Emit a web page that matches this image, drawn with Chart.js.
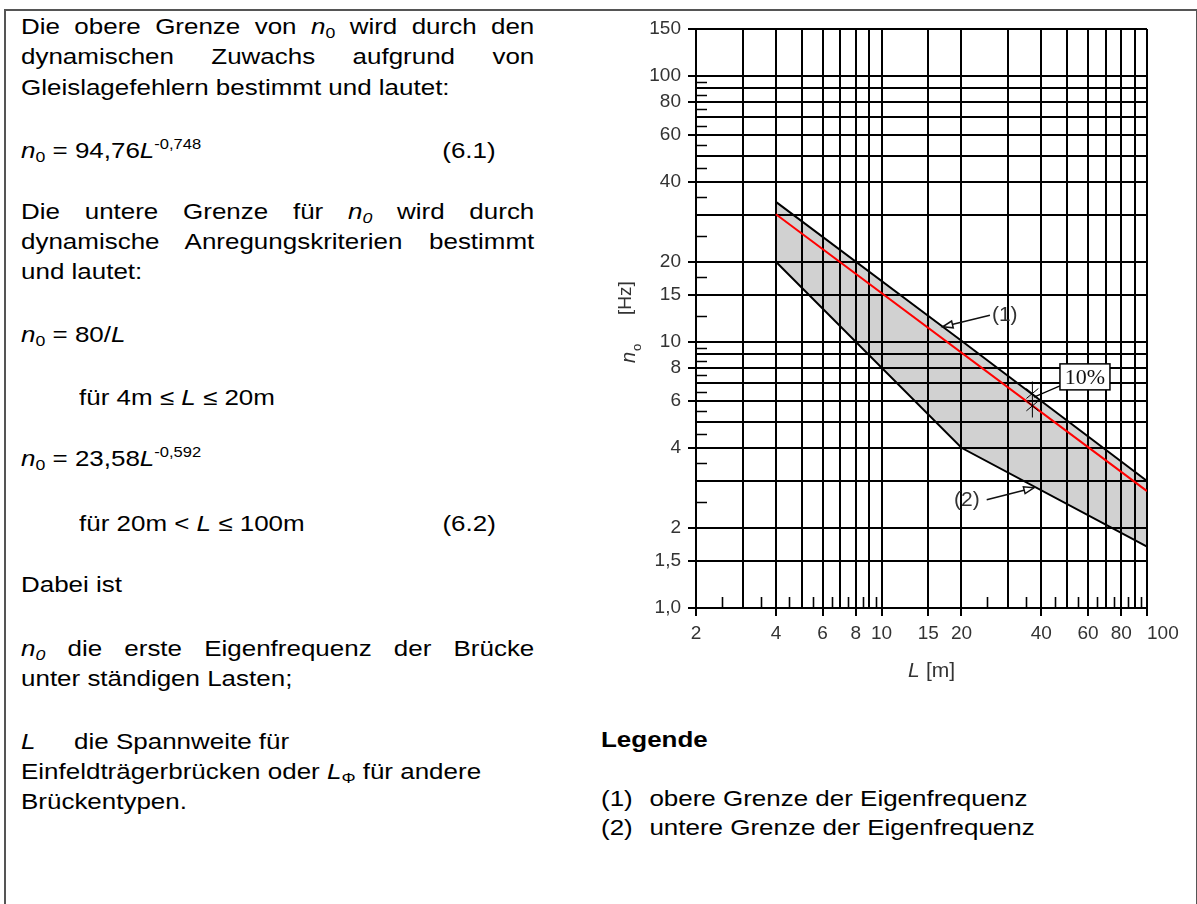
<!DOCTYPE html>
<html><head><meta charset="utf-8">
<script src="https://cdn.jsdelivr.net/npm/chart.js@4.4.1/dist/chart.umd.min.js"></script>
<style>
html,body{margin:0;padding:0;background:#fff;width:1197px;height:904px;overflow:hidden;}
body{position:relative;font-family:'Liberation Sans',Arial,sans-serif;color:#000;}
#frame{position:absolute;left:4px;top:9px;width:1190px;height:920px;border:2px solid #555;border-bottom:none;}
.l{position:absolute;font-size:22px;line-height:30px;white-space:nowrap;transform:scaleX(1.18);transform-origin:0 0;}
.j{width:435px;text-align:justify;text-align-last:justify;white-space:normal;}
sub{font-size:15px;vertical-align:-4px;line-height:0;}
sup{font-size:14px;vertical-align:9px;line-height:0;}
#c{position:absolute;left:560px;top:0;}
</style></head>
<body>
<div id="frame"></div>
<div class="l j" style="left:21px;top:12px">Die obere Grenze von <i>n</i><sub>0</sub> wird durch den</div>
<div class="l j" style="left:21px;top:42px">dynamischen Zuwachs aufgrund von</div>
<div class="l" style="left:21px;top:73px">Gleislagefehlern bestimmt und lautet:</div>
<div class="l" style="left:21px;top:136px"><i>n</i><sub>0</sub> = 94,76<i>L</i><sup>-0,748</sup><span style="position:absolute;left:357px;top:0">(6.1)</span></div>
<div class="l j" style="left:21px;top:197px">Die untere Grenze für <i>n<sub>0</sub></i> wird durch</div>
<div class="l j" style="left:21px;top:227px">dynamische Anregungskriterien bestimmt</div>
<div class="l" style="left:21px;top:257px">und lautet:</div>
<div class="l" style="left:21px;top:320px"><i>n</i><sub>0</sub> = 80/<i>L</i></div>
<div class="l" style="left:79px;top:383px">für 4m ≤ <i>L</i> ≤ 20m</div>
<div class="l" style="left:21px;top:444px"><i>n</i><sub>0</sub> = 23,58<i>L</i><sup>-0,592</sup></div>
<div class="l" style="left:79px;top:509px">für 20m &lt; <i>L</i> ≤ 100m<span style="position:absolute;left:308px;top:0">(6.2)</span></div>
<div class="l" style="left:21px;top:570px">Dabei ist</div>
<div class="l j" style="left:21px;top:634px"><i>n<sub>0</sub></i> die erste Eigenfrequenz der Brücke</div>
<div class="l" style="left:21px;top:664px">unter ständigen Lasten;</div>
<div class="l" style="left:21px;top:727px"><i>L</i><span style="position:absolute;left:45px;top:0">die Spannweite für</span></div>
<div class="l" style="left:21px;top:757px">Einfeldträgerbrücken oder <i>L</i><sub>Φ</sub> für andere</div>
<div class="l" style="left:21px;top:787px">Brückentypen.</div>
<div class="l" style="left:601px;top:725px;font-weight:bold">Legende</div>
<div class="l" style="left:601px;top:784px">(1)<span style="position:absolute;left:41px;top:0">obere Grenze der Eigenfrequenz</span></div>
<div class="l" style="left:601px;top:813px">(2)<span style="position:absolute;left:41px;top:0">untere Grenze der Eigenfrequenz</span></div>
<canvas id="c" width="637" height="700"></canvas>
<script>
// ---- data ----
const spanL    = [4, 20, 100];          // L [m]
const upperN0  = [33.6, 10.1, 3.0];     // (1) obere Grenze n0 [Hz]
const lowerN0  = [20, 4.0, 1.7];        // (2) untere Grenze n0 [Hz]
const redSpanL = [4, 100];
const redN0    = [30.2, 2.75];          // red line (10 % below upper limit)

// ---- axes ----
const xGridValues  = [2,3,4,5,6,7,8,9,10,15,20,30,40,50,60,70,80,90,100];
const xLabelValues = [2,4,6,8,10,15,20,40,60,80,100];
const xLabelTexts  = ['2','4','6','8','10','15','20','40','60','80','100'];
const xMinorValues = [2.5,3.5,4.5,5.5,6.5,7.5,8.5,9.5,25,35,45,55,65,75,85,95];
const yGridValues  = [1,1.5,2,3,4,5,6,7,8,9,10,15,20,30,40,50,60,70,80,90,100,150];
const yLabelValues = [1,1.5,2,4,6,8,10,15,20,40,60,80,100,150];
const yLabelTexts  = ['1,0','1,5','2','4','6','8','10','15','20','40','60','80','100','150'];
const yMinorValues = [2.5,3.5,4.5,5.5,6.5,7.5,8.5,9.5,12.5,17.5,25,35,45,55,65,75,85,95];

// ---- annotations (data coordinates) ----
const note1 = {text:'(1)', from:[25.6,12.6], to:[17,11.4]};
const note2 = {text:'(2)', from:[24.9,2.55], to:[37.5,2.83]};
const mark10 = {text:'10%', L:37, top:7.1, bottom:5.2, cross:[6.4,5.75], box:[47,8.27], leaderTo:[37.5,6.2]};

const FONT = '"Liberation Sans", Arial, sans-serif';

function arrow(ctx, x0, y0, x1, y1){
  ctx.beginPath(); ctx.moveTo(x0,y0); ctx.lineTo(x1,y1); ctx.stroke();
  const a = Math.atan2(y1-y0, x1-x0), len = 10, hw = 3.5;
  const bx = x1 - len*Math.cos(a), by = y1 - len*Math.sin(a);
  ctx.beginPath();
  ctx.moveTo(x1,y1);
  ctx.lineTo(bx + hw*Math.sin(a), by - hw*Math.cos(a));
  ctx.lineTo(bx - hw*Math.sin(a), by + hw*Math.cos(a));
  ctx.closePath();
  ctx.fillStyle='#fff'; ctx.fill(); ctx.stroke();
}

const overlay = {
  id:'overlay',
  afterDatasetsDraw(chart){
    const {ctx, chartArea:ca, scales:{x, y}} = chart;
    const px = v => x.getPixelForValue(v), py = v => y.getPixelForValue(v);
    ctx.save();
    // inward minor ticks
    ctx.strokeStyle='#000'; ctx.lineWidth=1.6;
    ctx.beginPath();
    yMinorValues.forEach(v => { const yy = Math.round(py(v))+0.5; ctx.moveTo(ca.left, yy); ctx.lineTo(ca.left+11, yy); });
    xMinorValues.forEach(v => { const xx = Math.round(px(v))+0.5; ctx.moveTo(xx, ca.bottom); ctx.lineTo(xx, ca.bottom-11); });
    ctx.stroke();

    // (1) and (2) callouts
    ctx.lineWidth=1.5; ctx.strokeStyle='#111';
    arrow(ctx, px(note1.from[0]), py(note1.from[1]), px(note1.to[0]), py(note1.to[1]));
    arrow(ctx, px(note2.from[0]), py(note2.from[1]), px(note2.to[0]), py(note2.to[1]));
    ctx.fillStyle='#333'; ctx.font='21px '+FONT; ctx.textBaseline='middle';
    ctx.textAlign='left';  ctx.fillText(note1.text, px(note1.from[0])+2, py(note1.from[1]));
    ctx.textAlign='right'; ctx.fillText(note2.text, px(note2.from[0])-7, py(note2.from[1]));

    // 10 % marker
    const mx = px(mark10.L);
    ctx.strokeStyle='#000'; ctx.lineWidth=1;
    ctx.beginPath(); ctx.moveTo(mx, py(mark10.top)); ctx.lineTo(mx, py(mark10.bottom)); ctx.stroke();
    mark10.cross.forEach(v => {
      const yy = py(v);
      ctx.beginPath(); ctx.moveTo(mx-6, yy+5); ctx.lineTo(mx+6, yy-5); ctx.stroke();
      ctx.beginPath(); ctx.moveTo(mx-6, yy-5); ctx.lineTo(mx+6, yy+5); ctx.stroke();
    });
    const bx = px(mark10.box[0]), by = py(mark10.box[1]);
    ctx.lineWidth=1.2;
    ctx.beginPath(); ctx.moveTo(bx, by+22); ctx.lineTo(px(mark10.leaderTo[0]), py(mark10.leaderTo[1])); ctx.stroke();
    ctx.fillStyle='#fff'; ctx.fillRect(bx, by, 50, 26);
    ctx.lineWidth=1.5; ctx.strokeRect(bx, by, 50, 26);
    ctx.fillStyle='#111'; ctx.font='22px "Liberation Serif", serif'; ctx.textAlign='center'; ctx.textBaseline='middle';
    ctx.fillText(mark10.text, bx+25, by+14);
    ctx.restore();
  },
  afterDraw(chart){
    const {ctx, chartArea:ca} = chart;
    ctx.save();
    ctx.fillStyle='#333'; ctx.textBaseline='alphabetic'; ctx.textAlign='left';
    // y title  n0 [Hz]
    ctx.translate(ca.left-61, ca.top+334);
    ctx.rotate(-Math.PI/2);
    ctx.font='italic 20px '+FONT; ctx.fillText('n', 0, 0);
    const w = ctx.measureText('n').width;
    ctx.font='13px '+FONT; ctx.fillText('o', w+1, 6);
    ctx.font='19px '+FONT; ctx.fillText('[Hz]', 48, -4);
    ctx.setTransform(1,0,0,1,0,0);
    // x title  L [m]
    ctx.font='italic 21px '+FONT; ctx.fillText('L', ca.left+212, ca.bottom+69);
    ctx.font='21px '+FONT; ctx.fillText('[m]', ca.left+230, ca.bottom+69);
    ctx.restore();
  }
};

const labelOf = (vals, texts, v) => { const i = vals.findIndex(a => Math.abs(a-v) < 1e-9); return i < 0 ? '' : texts[i]; };

new Chart(document.getElementById('c'), {
  type:'line',
  data:{datasets:[
    {label:'obere Grenze', data: spanL.map((L,i)=>({x:L, y:upperN0[i]})), borderColor:'#000', borderWidth:2,
     backgroundColor:'rgba(0,0,0,0.18)', fill:'+1', pointRadius:0, order:1},
    {label:'untere Grenze', data: spanL.map((L,i)=>({x:L, y:lowerN0[i]})), borderColor:'#000', borderWidth:2,
     fill:false, pointRadius:0, order:2},
    {label:'rot', data: redSpanL.map((L,i)=>({x:L, y:redN0[i]})), borderColor:'#ff0000', borderWidth:2,
     fill:false, pointRadius:0, order:0}
  ]},
  options:{
    responsive:false, animation:false, devicePixelRatio:1,
    layout:{padding:{left:76, top:29, right:50, bottom:52}},
    plugins:{legend:{display:false}, tooltip:{enabled:false}},
    scales:{
      x:{type:'logarithmic', min:2, max:100,
         afterBuildTicks:s => { s.ticks = xGridValues.map(v => ({value:v})); },
         afterFit:s => { s.height = 40; s.paddingLeft = 0; s.paddingRight = 0; },
         ticks:{autoSkip:false, maxRotation:0, minRotation:0, padding:6, color:'#333',
                font:{family:FONT, size:19},
                // last label sits to the right of its tick, as in the figure
                callback:v => { const t = labelOf(xLabelValues, xLabelTexts, v); return v === 100 ? '\u2007\u2007\u2007' + t : t; }},
         grid:{color:'#000', lineWidth:2, tickLength:8, tickWidth:2,
               tickColor:c => (c.tick && labelOf(xLabelValues, xLabelTexts, c.tick.value)) ? '#000' : 'rgba(0,0,0,0)'},
         border:{color:'#000', width:2}},
      y:{type:'logarithmic', min:1, max:150,
         afterBuildTicks:s => { s.ticks = yGridValues.map(v => ({value:v})); },
         afterFit:s => { s.width = 60; s.paddingTop = 0; s.paddingBottom = 0; },
         ticks:{autoSkip:false, padding:7, color:'#333',
                font:{family:FONT, size:19}, callback:v => labelOf(yLabelValues, yLabelTexts, v)},
         grid:{color:'#000', lineWidth:2, tickLength:8, tickWidth:2,
               tickColor:c => (c.tick && labelOf(yLabelValues, yLabelTexts, c.tick.value)) ? '#000' : 'rgba(0,0,0,0)'},
         border:{color:'#000', width:2}}
    }
  },
  plugins:[overlay]
});
</script>
</body></html>
